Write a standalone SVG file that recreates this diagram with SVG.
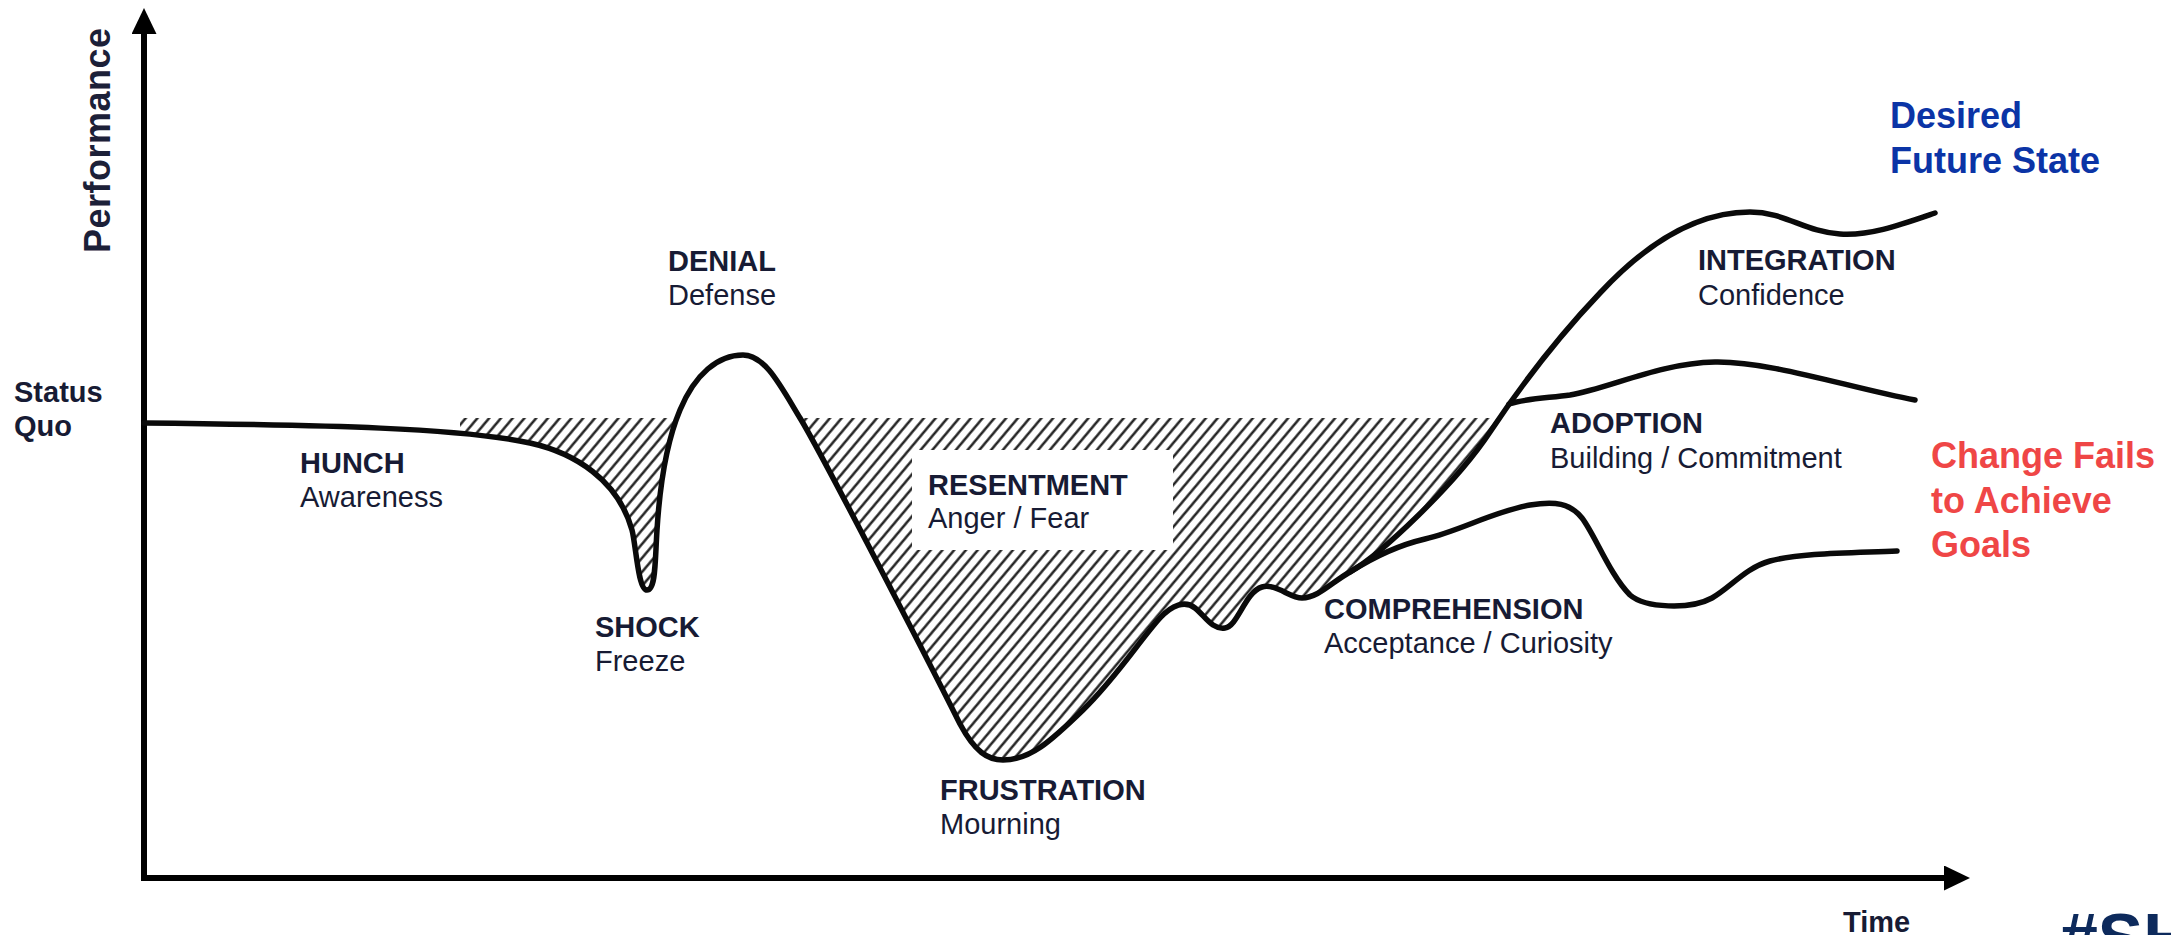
<svg xmlns="http://www.w3.org/2000/svg" width="2171" height="935" viewBox="0 0 2171 935">
  <style>
    .lbl { font-family: "Liberation Sans", Arial, Helvetica, sans-serif; font-size: 29px; fill: #171b34; }
    .b { font-weight: bold; }
    .perf { font-size: 36px; fill: #1c2038; letter-spacing: 0.5px; }
    .curve { fill: none; stroke: #0a0a0a; stroke-width: 5.5; stroke-linecap: round; stroke-linejoin: round; }
    .axis { fill: none; stroke: #000; stroke-width: 6; stroke-linejoin: miter; }
    .big { font-family: "Liberation Sans", Arial, Helvetica, sans-serif; font-weight: bold; font-size: 36px; }
  </style>
  <defs>
    <marker id="arrow" viewBox="0 0 26 25" markerWidth="26" markerHeight="25" refX="6" refY="12.5" orient="auto-start-reverse" markerUnits="userSpaceOnUse">
      <path d="M0,0 L26,12.5 L0,25 Z" fill="#000"/>
    </marker>
    <pattern id="hatch" patternUnits="userSpaceOnUse" width="9" height="9" patternTransform="rotate(40)">
      <line x1="4.5" y1="-1" x2="4.5" y2="10" stroke="#111" stroke-width="2.3"/>
    </pattern>
    <!-- area lying above the performance curve -->
    <clipPath id="aboveCurve">
      <path d="M144,423 C330,425 460,428 530,443 C575,453 618,480 632,530 C636,545 638,590 647,590 C656,590 655,560 657,530 C659,498 664,448 680,410 C695,374 718,355 743,355 C765,355 780,385 800,418 C822,454 930,664 960,724 C975,752 988,760 1003,760 C1030,760 1050,742 1083,710 C1116,678 1140,640 1160,618 C1172,605 1185,600 1195,608 C1205,616 1212,630 1225,628 C1238,626 1245,592 1262,587 C1275,583 1290,598 1302,598 C1318,598 1332,582 1350,572 C1380,555 1455,485 1490,432 C1520,387 1560,335 1600,293 L1600,0 L144,0 Z"/>
    </clipPath>
  </defs>

  <rect width="2171" height="935" fill="#fff"/>

  <!-- shaded dip below the status quo level -->
  <rect id="dip-shading" x="460" y="418" width="1045" height="360" fill="url(#hatch)" clip-path="url(#aboveCurve)"/>

  <g id="connectors">
    <path id="axes" class="axis" d="M144,28 V878 H1950" marker-start="url(#arrow)" marker-end="url(#arrow)"/>
    <path id="main-curve" class="curve" d="M144,423 C330,425 460,428 530,443 C575,453 618,480 632,530 C636,545 638,590 647,590 C656,590 655,560 657,530 C659,498 664,448 680,410 C695,374 718,355 743,355 C765,355 780,385 800,418 C822,454 930,664 960,724 C975,752 988,760 1003,760 C1030,760 1050,742 1083,710 C1116,678 1140,640 1160,618 C1172,605 1185,600 1195,608 C1205,616 1212,630 1225,628 C1238,626 1245,592 1262,587 C1275,583 1290,598 1302,598 C1318,598 1332,582 1350,572 C1380,555 1455,485 1490,432 C1520,387 1560,335 1600,293 C1640,250 1690,212 1750,212 C1785,212 1805,232 1840,234 C1870,236 1900,225 1935,213"/>
    <path id="adoption-branch" class="curve" d="M1509,404 C1528,398 1550,398 1570,395 C1610,388 1660,363 1715,362 C1770,361 1850,388 1915,400"/>
    <path id="fail-branch" class="curve" d="M1350,572 C1372,558 1395,546 1425,539 C1460,531 1492,512 1530,505 C1555,501 1570,503 1582,518 C1595,535 1610,575 1630,595 C1645,608 1690,610 1712,598 C1730,588 1745,568 1770,561 C1800,553 1850,553 1897,551"/>
  </g>

  <g id="axis-performance">
    <text class="lbl b perf" transform="translate(110,253) rotate(-90)">Performance</text>
  </g>
  <g id="axis-time">
    <text class="lbl b" x="1843" y="932">Time</text>
  </g>
  <g id="status-quo">
    <text class="lbl b" x="14" y="402" fill="#111">Status</text>
    <text class="lbl b" x="14" y="436" fill="#111">Quo</text>
  </g>

  <g id="hunch">
    <text class="lbl b" x="300" y="473">HUNCH</text>
    <text class="lbl" x="300" y="507">Awareness</text>
  </g>
  <g id="denial">
    <text class="lbl b" x="668" y="271">DENIAL</text>
    <text class="lbl" x="668" y="305">Defense</text>
  </g>
  <g id="shock">
    <text class="lbl b" x="595" y="637">SHOCK</text>
    <text class="lbl" x="595" y="671">Freeze</text>
  </g>
  <g id="resentment">
    <rect x="912" y="450" width="261" height="100" fill="#fff"/>
    <text class="lbl b" x="928" y="495">RESENTMENT</text>
    <text class="lbl" x="928" y="528">Anger / Fear</text>
  </g>
  <g id="frustration">
    <text class="lbl b" x="940" y="800">FRUSTRATION</text>
    <text class="lbl" x="940" y="834">Mourning</text>
  </g>
  <g id="comprehension">
    <text class="lbl b" x="1324" y="619">COMPREHENSION</text>
    <text class="lbl" x="1324" y="653">Acceptance / Curiosity</text>
  </g>
  <g id="adoption">
    <text class="lbl b" x="1550" y="433">ADOPTION</text>
    <text class="lbl" x="1550" y="468">Building / Commitment</text>
  </g>
  <g id="integration">
    <text class="lbl b" x="1698" y="270">INTEGRATION</text>
    <text class="lbl" x="1698" y="305">Confidence</text>
  </g>

  <g id="desired-state">
    <text class="big" x="1890" y="128" fill="#0b34a6">Desired</text>
    <text class="big" x="1890" y="173" fill="#0b34a6">Future State</text>
  </g>
  <g id="change-fails">
    <text class="big" x="1931" y="468" fill="#ef4646">Change Fails</text>
    <text class="big" x="1931" y="513" fill="#ef4646">to Achieve</text>
    <text class="big" x="1931" y="557" fill="#ef4646">Goals</text>
  </g>

  <g id="tag">
    <text x="2060" y="961" font-family="'Liberation Sans', Arial, Helvetica, sans-serif" font-weight="bold" font-size="68" fill="#0d2a5c">#SH</text>
  </g>
</svg>
